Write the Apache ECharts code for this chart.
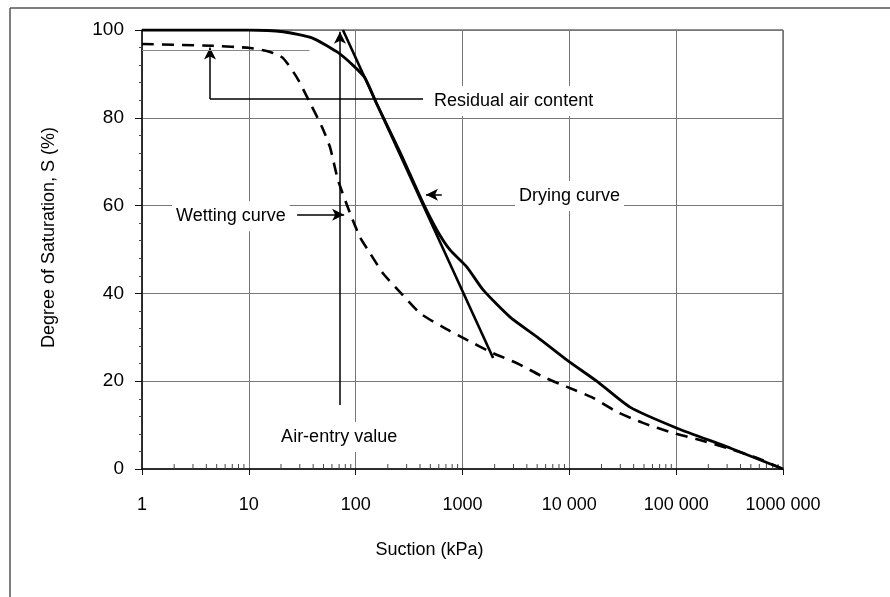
<!DOCTYPE html>
<html>
<head>
<meta charset="utf-8">
<script src="https://cdn.jsdelivr.net/npm/echarts@6/dist/echarts.min.js"></script>
<style>
html,body{margin:0;padding:0;background:#fff;}
#chart{width:890px;height:597px;}
</style>
</head>
<body>
<div id="chart"></div>
<script>
// ---- data ----
const dryingSuction = [1, 10, 21, 39, 67, 94, 122, 158, 260, 427, 577, 764, 1100, 1560, 2790, 4980, 9510, 18550, 36960, 101900, 319000, 1000000];
const dryingS       = [100, 100, 99.6, 98.2, 95.0, 92.0, 89.1, 83.1, 72.2, 60.6, 54.4, 49.9, 46.0, 40.8, 34.6, 30.1, 24.8, 19.8, 14.1, 9.3, 4.8, 0];

const wettingSuction = [1, 4.6, 10.3, 15.8, 20.9, 28.3, 37.4, 48.4, 57.5, 68.4, 88.5, 110, 136, 180, 260, 400, 657, 1100, 1930, 3240, 5670, 9510, 16670, 27940, 48900, 93400, 167000, 299000, 571000, 1000000];
const wettingS       = [96.8, 96.4, 95.9, 95.0, 93.6, 89.1, 83.4, 77.9, 73.3, 65.8, 58.3, 52.8, 49.2, 44.6, 40.3, 35.5, 32.3, 29.4, 26.4, 24.1, 21.0, 18.7, 16.2, 13.0, 10.5, 8.2, 6.6, 4.8, 2.5, 0];

const tangentSuction = [76, 1935];
const tangentS       = [100, 25.3];

const xTickValues = [1, 10, 100, 1000, 10000, 100000, 1000000];
const xTickLabels = ['1', '10', '100', '1000', '10 000', '100 000', '1000 000'];
const yTickLabels = ['0', '20', '40', '60', '80', '100'];

// annotation anchors (data coordinates)
const annoTexts = [
  {text: 'Residual air content', at: [497, 83.8]},
  {text: 'Drying curve', at: [3100, 62.2]},
  {text: 'Wetting curve', at: [1.91, 57.6]},
  {text: 'Air-entry value', at: [18.4, 7.3]}
];
const leaderLines = [
  {from: [427, 84.3], to: [4.33, 84.3], arrow: false},
  {from: [4.33, 84.3], to: [4.33, 96.0], arrow: true},
  {from: [1, 95.4], to: [37, 95.4], arrow: false, thin: true},
  {from: [28.3, 57.9], to: [78, 57.9], arrow: true},
  {from: [71.3, 14.6], to: [71.3, 99.6], arrow: true},
  {from: [640, 62.5], to: [455, 62.5], arrow: true}
];

// minor tick positions on the log axis (2..9 in each decade)
const minorTicks = [];
for (let d = 1; d < 1000000; d *= 10) for (let k = 2; k <= 9; k++) minorTicks.push(d * k);

const zip = (a, b) => a.map((v, i) => [v, b[i]]);

const chart = echarts.init(document.getElementById('chart'), null, {renderer: 'canvas'});
const font = 'Liberation Sans, Arial, sans-serif';

const option = {
  backgroundColor: '#fff',
  animation: false,
  grid: {left: 142, right: 107, top: 30, bottom: 128, show: true, borderColor: '#222', borderWidth: 1},
  xAxis: {
    type: 'log', logBase: 10, min: 1, max: 1000000,
    name: 'Suction (kPa)', nameLocation: 'middle', nameGap: 72,
    nameTextStyle: {fontFamily: font, fontSize: 18, color: '#000', padding: [0, 66, 0, 0]},
    axisLine: {show: true, lineStyle: {color: '#111', width: 1.5}},
    axisTick: {show: true, length: 6, lineStyle: {color: '#111'}},
    axisLabel: {
      fontFamily: font, fontSize: 18, color: '#000', margin: 27,
      formatter: v => { const i = xTickValues.findIndex(t => Math.abs(Math.log10(t) - Math.log10(v)) < 1e-6); return i >= 0 ? xTickLabels[i] : ''; }
    },
    splitLine: {show: true, lineStyle: {color: '#777', width: 1}}
  },
  yAxis: {
    type: 'value', min: 0, max: 100, interval: 20,
    name: 'Degree of Saturation, S (%)', nameLocation: 'middle', nameGap: 84,
    nameTextStyle: {fontFamily: font, fontSize: 18, color: '#000', padding: [0, 0, 0, 24]},
    axisLine: {show: true, lineStyle: {color: '#111', width: 1.5}},
    axisTick: {show: true, length: 7, lineStyle: {color: '#111'}},
    minorTick: {show: true, splitNumber: 5, length: 3, lineStyle: {color: '#444'}},
    axisLabel: {fontFamily: font, fontSize: 19, color: '#000', margin: 18,
      formatter: v => yTickLabels[Math.round(v / 20)]},
    splitLine: {show: true, lineStyle: {color: '#777', width: 1}}
  },
  series: [
    {
      name: 'minor x ticks', type: 'custom', silent: true, z: 3,
      data: minorTicks.map(v => [v, 0]),
      renderItem: (params, api) => {
        const p = api.coord([api.value(0), 0]);
        return {type: 'line', shape: {x1: p[0], y1: p[1], x2: p[0], y2: p[1] - 5},
          style: {stroke: '#444', lineWidth: 1}};
      }
    },
    {
      name: 'Drying curve', type: 'line', data: zip(dryingSuction, dryingS),
      showSymbol: false, smooth: 0.2, z: 5,
      lineStyle: {color: '#000', width: 2.8}
    },
    {
      name: 'Wetting curve', type: 'line', data: zip(wettingSuction, wettingS),
      showSymbol: false, smooth: 0.2, z: 5,
      lineStyle: {color: '#000', width: 2.6, type: [12, 8]}
    },
    {
      name: 'Tangent', type: 'line', data: zip(tangentSuction, tangentS),
      showSymbol: false, z: 5,
      lineStyle: {color: '#000', width: 2.6},
      markLine: {
        silent: true, symbol: ['none', 'arrow'], symbolSize: [9, 12],
        lineStyle: {color: '#000', width: 1.5, type: 'solid'},
        label: {show: false},
        data: leaderLines.map(l => [
          {coord: l.from, symbol: 'none'},
          {coord: l.to, symbol: l.arrow ? 'arrow' : 'none',
            lineStyle: l.thin ? {color: '#888', width: 1} : undefined}
        ])
      },
      markPoint: {
        silent: true, symbol: 'rect', symbolSize: 0,
        data: annoTexts.map(a => ({
          coord: a.at, value: a.text,
          label: {show: true, position: 'right', distance: 0, formatter: a.text,
            fontFamily: font, fontSize: 18, color: '#000',
            backgroundColor: '#fff', padding: [6, 4, 6, 4]}
        }))
      }
    }
  ],
  graphic: [
    {type: 'line', shape: {x1: 10, y1: 8, x2: 890, y2: 8}, style: {stroke: '#555', lineWidth: 1.5}},
    {type: 'line', shape: {x1: 10, y1: 8, x2: 10, y2: 597}, style: {stroke: '#555', lineWidth: 1.5}}
  ]
};
chart.setOption(option);
</script>
</body>
</html>
